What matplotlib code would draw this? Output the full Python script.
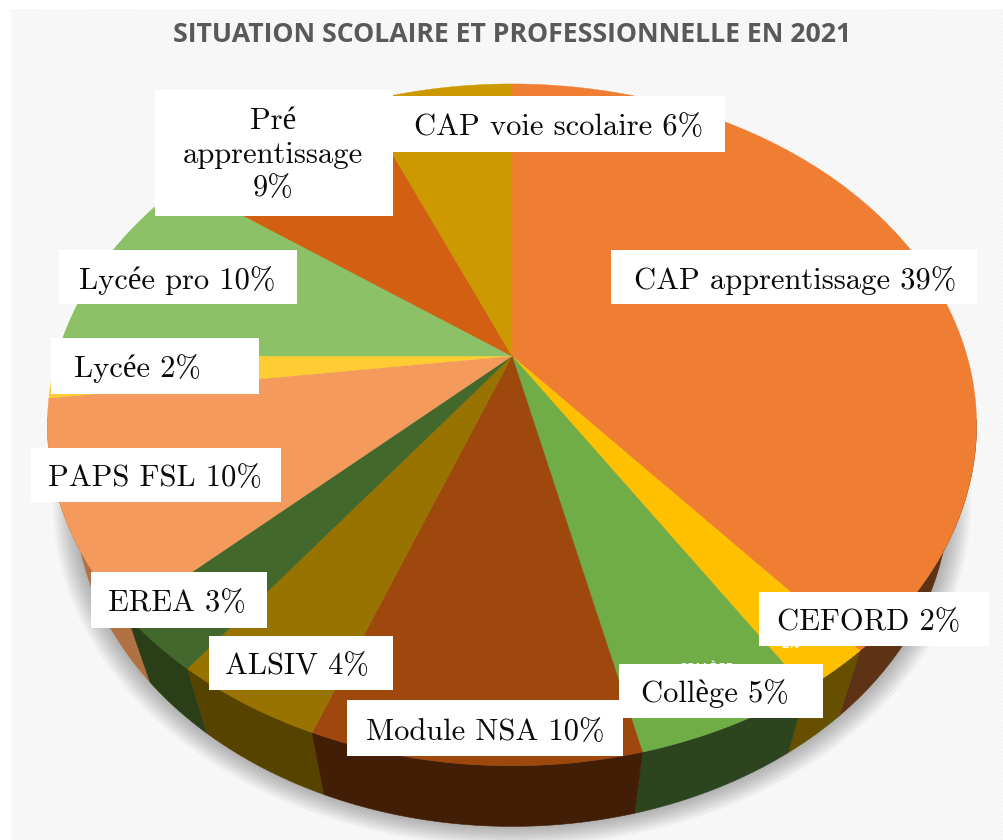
import numpy as np
import matplotlib
matplotlib.use('Agg')
import matplotlib.pyplot as plt
from matplotlib.patches import Rectangle

# values, clockwise from the top (the labels are rounded)
categories = ['CAP apprentissage', 'CEFORD', 'Collège', 'Module NSA', 'ALSIV', 'EREA',
              'PAPS FSL', 'Lycée', 'Lycée pro', 'Pré apprentissage', 'CAP voie scolaire']
values = [38.8, 2.2, 5.3, 9.5, 4.4, 2.8, 10, 2, 10, 8.6, 6.4]
top_colors = ['#F07E32', '#FFC000', '#70AD47', '#9E480E', '#997300', '#43682B',
              '#F49A5C', '#FFCD33', '#8CC168', '#D25F12', '#CC9900']
side_colors = ['#5E3214', '#665000', '#2D451E', '#421E06', '#574300', '#2A3F18',
               '#B07242', '#A08020', '#5A8040', '#803C0C', '#806000']

title = 'SITUATION SCOLAIRE ET PROFESSIONNELLE EN 2021'

# label boxes in pixels: x0, y0, x1, y1, text x, text y, text
label_boxes = [
    (611, 250, 977, 304, 795, 281, 'CAP apprentissage 39%'),
    (759, 592, 989, 646, 869, 622, 'CEFORD 2%'),
    (619, 664, 823, 718, 715, 694, 'Collège 5%'),
    (347, 700, 623, 756, 485, 732, 'Module NSA 10%'),
    (209, 636, 393, 690, 297, 666, 'ALSIV 4%'),
    (91, 572, 267, 628, 177, 603, 'EREA 3%'),
    (31, 448, 281, 502, 155, 478, 'PAPS FSL 10%'),
    (51, 338, 259, 394, 137, 369, 'Lycée 2%'),
    (59, 250, 297, 304, 177, 281, 'Lycée pro 10%'),
    (155, 90, 393, 216, 273, 155, 'Pré\napprentissage\n9%'),
    (393, 96, 725, 152, 559, 127, 'CAP voie scolaire 6%'),
]

# perspective of the pie top, fitted on the picture
CX, CY = 512, 356
C, A, K = 455, 327, 0.202
BOTTOM_SX, BOTTOM_SY, BOTTOM_DY = 0.94, 0.96, 77


def rim(frac):
    # frac is clockwise from the top, 0..1
    t = np.pi/2 - 2*np.pi*np.asarray(frac)
    w = 1 + K*np.sin(t)
    return C*np.cos(t)/w, A*np.sin(t)/w


def top_xy(frac):
    x, y = rim(frac)
    return CX + x, CY - y


def bottom_xy(frac):
    x, y = rim(frac)
    return CX + BOTTOM_SX*x, CY - BOTTOM_SY*y + BOTTOM_DY


plt.rcParams['hatch.linewidth'] = 0.6
fig = plt.figure(figsize=(10.04, 8.40), dpi=100)
ax = fig.add_axes([0, 0, 1, 1])
ax.set_xlim(0, 1004)
ax.set_ylim(840, 0)
ax.axis('off')

# striped background
ax.add_patch(Rectangle((11, 9), 993, 831, facecolor='#FAFAFA', edgecolor='#F1F1F1',
                       hatch='\\\\\\\\\\\\\\\\', lw=0, zorder=0))

# soft shadow under the pie
all_frac = np.linspace(0, 1, 400)
bx, by = bottom_xy(all_frac)
for i in range(16):
    s = 1.052 - i*0.0035
    ax.fill(CX + s*(bx - CX), 430 + s*(by - 430), color='black', alpha=0.02, lw=0, zorder=1)

edges = np.cumsum([0] + values)/sum(values)
slices = list(zip(edges[:-1], edges[1:], top_colors, side_colors))

# side walls, the ones at the back first
slices_sorted = sorted(slices, key=lambda s: top_xy((s[0] + s[1])/2)[1])
for f0, f1, _, side in slices_sorted:
    f = np.linspace(f0, f1, 80)
    f = f[rim(f)[1] < -60]  # the back of the wall never shows
    if len(f) < 2:
        continue
    tx, ty = top_xy(f)
    qx, qy = bottom_xy(f)
    ax.fill(np.r_[tx, qx[::-1]], np.r_[ty, qy[::-1]], facecolor=side, edgecolor=side, lw=0.4, zorder=2)

# top face
for f0, f1, top, _ in slices:
    f = np.linspace(f0, f1, 120)
    tx, ty = top_xy(f)
    ax.fill(np.r_[CX, tx], np.r_[CY, ty], facecolor=top, edgecolor=top, lw=0.3, zorder=3)

# what is left of the white labels behind the boxes
ax.text(706, 668, 'COLLÈGE', color='white', fontsize=9, fontweight='bold', family='Open Sans',
        ha='center', va='center', zorder=4)
ax.text(791, 645, '2%', color='white', fontsize=9, fontweight='bold', family='Open Sans',
        ha='center', va='center', zorder=4)

serif = ['cmr10', 'Liberation Serif']
for x0, y0, x1, y1, tx, ty, txt in label_boxes:
    ax.add_patch(Rectangle((x0, y0), x1 - x0, y1 - y0, facecolor='white', lw=0, zorder=5))
    ax.text(tx, ty, txt, family=serif, fontsize=22, color='#0A0A0A', ha='center', va='center',
            linespacing=1.28, zorder=6)

ax.text(512, 35, title, family='Open Sans', fontweight='bold', fontsize=19.2, color='#595959',
        ha='center', va='center', zorder=6)

fig.savefig('out.png', dpi=100)
